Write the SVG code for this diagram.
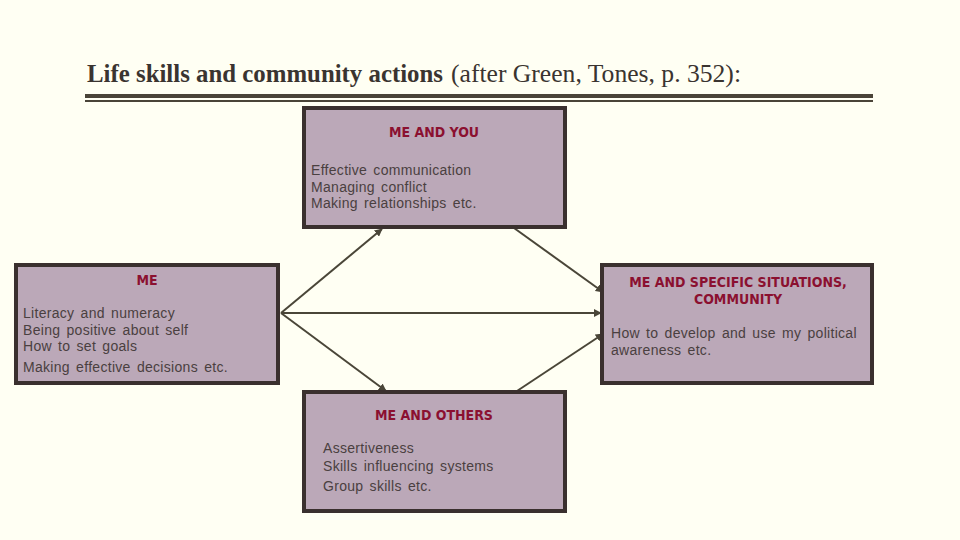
<svg xmlns="http://www.w3.org/2000/svg" width="960" height="540" viewBox="0 0 960 540">
<defs>
<marker id="ah" viewBox="0 0 10 10" refX="9" refY="5" markerWidth="4" markerHeight="4" orient="auto" markerUnits="strokeWidth">
<path d="M0,0 L10,5 L0,10 z" fill="#4a4638"/>
</marker>
<style>
.box{fill:#bba8b8;stroke:#3a302e;stroke-width:4}
.hd{font-family:"DejaVu Sans Condensed","DejaVu Sans",sans-serif;font-size:14px;font-weight:bold;fill:#8b1030;text-anchor:middle}
.bd{font-family:"Liberation Sans",sans-serif;font-size:14px;fill:#4a4040;letter-spacing:0.3px;word-spacing:2px}
.cn{stroke:#4a4638;stroke-width:2;fill:none;marker-end:url(#ah)}
</style>
</defs>
<rect width="960" height="540" fill="#fffff3"/>
<g id="title">
<text x="87" y="82" font-family="Liberation Serif,serif" font-size="25" fill="#3a3430"><tspan font-weight="bold" textLength="356" lengthAdjust="spacingAndGlyphs">Life skills and community actions</tspan><tspan x="451" textLength="290" lengthAdjust="spacingAndGlyphs">(after Green, Tones, p. 352):</tspan></text>
<rect x="85" y="94" width="788" height="4" fill="#4a4438"/>
<rect x="85" y="100" width="788" height="2" fill="#4a4438"/>
</g>
<g id="connectors">
<line class="cn" x1="281" y1="313" x2="382" y2="229"/>
<line class="cn" x1="281" y1="313" x2="601" y2="313"/>
<line class="cn" x1="281" y1="313" x2="386" y2="391"/>
<line class="cn" x1="514" y1="228" x2="603" y2="292"/>
<line class="cn" x1="517" y1="391" x2="603" y2="334"/>
</g>
<g id="me-and-you">
<rect class="box" x="304" y="108" width="261" height="119"/>
<text class="hd" x="434" y="137">ME AND YOU</text>
<text class="bd" x="311" y="175">Effective communication</text>
<text class="bd" x="311" y="192">Managing conflict</text>
<text class="bd" x="311" y="208">Making relationships etc.</text>
</g>
<g id="me">
<rect class="box" x="16" y="265" width="262" height="118"/>
<text class="hd" x="147" y="285">ME</text>
<text class="bd" x="23" y="318">Literacy and numeracy</text>
<text class="bd" x="23" y="335">Being positive about self</text>
<text class="bd" x="23" y="351">How to set goals</text>
<text class="bd" x="23" y="372">Making effective decisions etc.</text>
</g>
<g id="me-and-situations">
<rect class="box" x="602" y="265" width="270" height="118"/>
<text class="hd" x="738" y="287">ME AND SPECIFIC SITUATIONS,</text>
<text class="hd" x="738" y="304">COMMUNITY</text>
<text class="bd" x="611" y="338">How to develop and use my political</text>
<text class="bd" x="611" y="355">awareness etc.</text>
</g>
<g id="me-and-others">
<rect class="box" x="304" y="392" width="261" height="119"/>
<text class="hd" x="434" y="420">ME AND OTHERS</text>
<text class="bd" x="323" y="453">Assertiveness</text>
<text class="bd" x="323" y="471">Skills influencing systems</text>
<text class="bd" x="323" y="491">Group skills etc.</text>
</g>
</svg>
